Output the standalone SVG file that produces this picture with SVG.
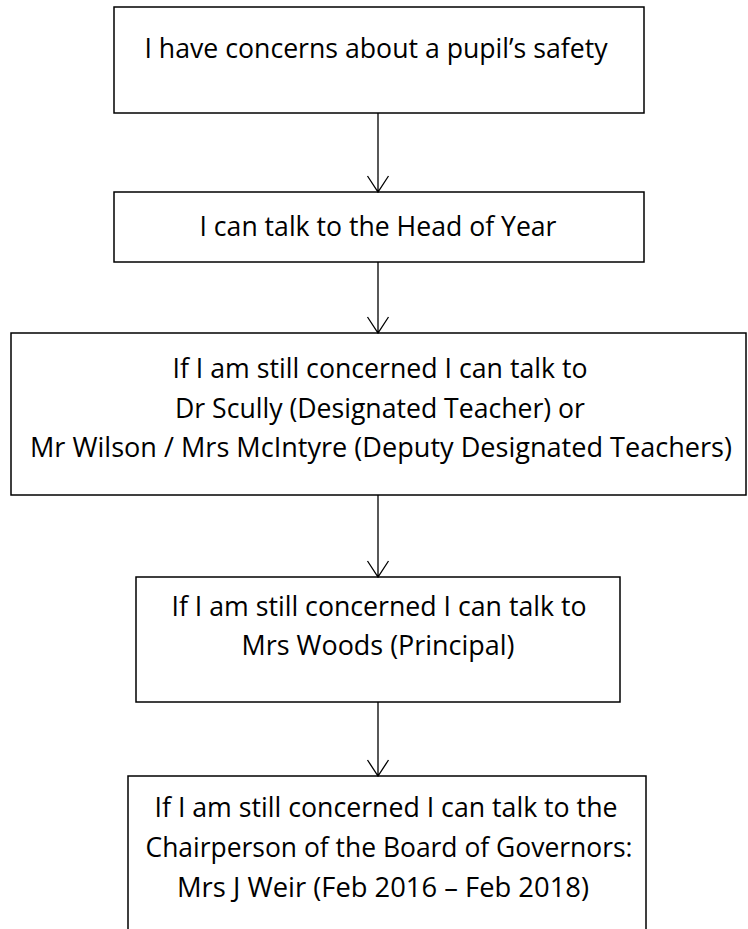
<svg xmlns="http://www.w3.org/2000/svg" width="748" height="929" viewBox="0 0 748 929">
<style>
.box{fill:#ffffff;stroke:#000000;stroke-width:1.5}
.t{font-family:"Open Sans","Liberation Sans",sans-serif;font-size:27px;fill:#000000;text-anchor:middle}
.conn{fill:none;stroke:#000000;stroke-width:1.3}
</style>
<rect x="0" y="0" width="748" height="929" fill="#ffffff"/>
<g id="node1">
<rect class="box" x="114" y="7" width="530" height="106"/>
<text class="t" x="376" y="58" textLength="463" lengthAdjust="spacingAndGlyphs">I have concerns about a pupil’s safety</text>
</g>
<g id="node2">
<rect class="box" x="114" y="192" width="530" height="70"/>
<text class="t" x="378" y="236" textLength="357" lengthAdjust="spacingAndGlyphs">I can talk to the Head of Year</text>
</g>
<g id="node3">
<rect class="box" x="11" y="333" width="735" height="162"/>
<text class="t" x="380" y="378" textLength="415" lengthAdjust="spacingAndGlyphs">If I am still concerned I can talk to</text>
<text class="t" x="380" y="417.5" textLength="410" lengthAdjust="spacingAndGlyphs">Dr Scully (Designated Teacher) or</text>
<text class="t" x="381" y="457" textLength="702" lengthAdjust="spacingAndGlyphs">Mr Wilson / Mrs McIntyre (Deputy Designated Teachers)</text>
</g>
<g id="node4">
<rect class="box" x="136" y="577" width="484" height="125"/>
<text class="t" x="379" y="616" textLength="415" lengthAdjust="spacingAndGlyphs">If I am still concerned I can talk to</text>
<text class="t" x="378" y="655" textLength="273" lengthAdjust="spacingAndGlyphs">Mrs Woods (Principal)</text>
</g>
<g id="node5">
<rect class="box" x="128" y="776" width="518" height="170"/>
<text class="t" x="386" y="817" textLength="463" lengthAdjust="spacingAndGlyphs">If I am still concerned I can talk to the</text>
<text class="t" x="389" y="857" textLength="487" lengthAdjust="spacingAndGlyphs">Chairperson of the Board of Governors:</text>
<text class="t" x="383" y="897" textLength="412" lengthAdjust="spacingAndGlyphs">Mrs J Weir (Feb 2016 – Feb 2018)</text>
</g>
<g id="connectors">
<path class="conn" d="M378,113 V192 M367.5,176 L378,192 L388.5,176"/>
<path class="conn" d="M378,262 V333 M367.5,317 L378,333 L388.5,317"/>
<path class="conn" d="M378,495 V577 M367.5,561 L378,577 L388.5,561"/>
<path class="conn" d="M378,702 V776 M367.5,760 L378,776 L388.5,760"/>
</g>
</svg>
